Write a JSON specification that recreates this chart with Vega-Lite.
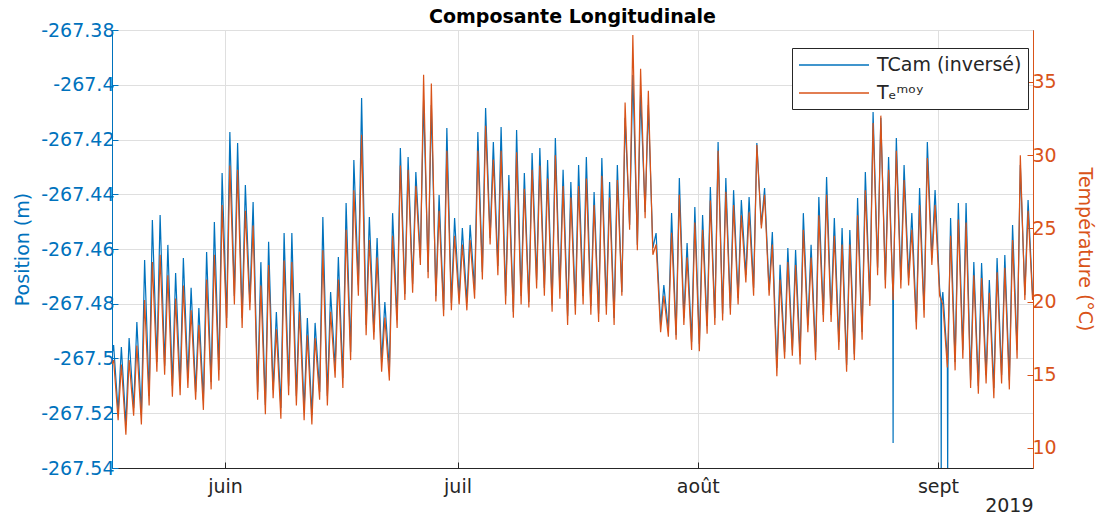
{
"$schema": "https://vega.github.io/schema/vega-lite/v6.json",
"autosize": {"type": "none"},
"padding": {"left": 112, "top": 30, "right": 70, "bottom": 47},
"width": 921,
"height": 438,
"title": {"text": "Composante Longitudinale", "fontSize": 19, "fontWeight": "bold", "color": "#000000", "offset": 6, "dy": 12, "frame": "group", "font": "DejaVu Sans"},
"config": {
  "font": "DejaVu Sans",
  "view": {"stroke": "#262626", "strokeWidth": 1},
  "axis": {"labelFontSize": 19, "titleFontSize": 19, "titleFontWeight": "normal", "gridColor": "#dfdfdf", "tickSize": -6, "labelFont": "DejaVu Sans", "titleFont": "DejaVu Sans"}
},
"datasets": {
"cam": [
{"t":"2019-05-17T10:00","p":-267.4987},{"t":"2019-05-17T15:00","p":-267.4951},{"t":"2019-05-18T05:00","p":-267.5195},{"t":"2019-05-18T15:00","p":-267.4958},
{"t":"2019-05-19T05:00","p":-267.5243},{"t":"2019-05-19T15:00","p":-267.4925},{"t":"2019-05-20T05:00","p":-267.5181},{"t":"2019-05-20T15:00","p":-267.4867},
{"t":"2019-05-21T05:00","p":-267.5206},{"t":"2019-05-21T15:00","p":-267.4640},{"t":"2019-05-22T05:00","p":-267.5137},{"t":"2019-05-22T15:00","p":-267.4494},
{"t":"2019-05-23T05:00","p":-267.5013},{"t":"2019-05-23T15:00","p":-267.4476},{"t":"2019-05-24T05:00","p":-267.5027},{"t":"2019-05-24T15:00","p":-267.4585},
{"t":"2019-05-25T05:00","p":-267.5100},{"t":"2019-05-25T15:00","p":-267.4688},{"t":"2019-05-26T05:00","p":-267.5100},{"t":"2019-05-26T15:00","p":-267.4633},
{"t":"2019-05-27T05:00","p":-267.5071},{"t":"2019-05-27T15:00","p":-267.4742},{"t":"2019-05-28T05:00","p":-267.5122},{"t":"2019-05-28T15:00","p":-267.4816},
{"t":"2019-05-29T05:00","p":-267.5152},{"t":"2019-05-29T15:00","p":-267.4611},{"t":"2019-05-30T05:00","p":-267.5086},{"t":"2019-05-30T15:00","p":-267.4501},
{"t":"2019-05-31T05:00","p":-267.5042},{"t":"2019-05-31T15:00","p":-267.4322},{"t":"2019-06-01T05:00","p":-267.4852},{"t":"2019-06-01T15:00","p":-267.4173},
{"t":"2019-06-02T05:00","p":-267.4772},{"t":"2019-06-02T15:00","p":-267.4213},{"t":"2019-06-03T05:00","p":-267.4852},{"t":"2019-06-03T15:00","p":-267.4366},
{"t":"2019-06-04T05:00","p":-267.4794},{"t":"2019-06-04T15:00","p":-267.4428},{"t":"2019-06-05T05:00","p":-267.5122},{"t":"2019-06-05T15:00","p":-267.4648},
{"t":"2019-06-06T05:00","p":-267.5170},{"t":"2019-06-06T15:00","p":-267.4574},{"t":"2019-06-07T05:00","p":-267.5115},{"t":"2019-06-07T15:00","p":-267.4830},
{"t":"2019-06-08T05:00","p":-267.5181},{"t":"2019-06-08T15:00","p":-267.4542},{"t":"2019-06-09T05:00","p":-267.5100},{"t":"2019-06-09T15:00","p":-267.4542},
{"t":"2019-06-10T05:00","p":-267.5137},{"t":"2019-06-10T15:00","p":-267.4761},{"t":"2019-06-11T05:00","p":-267.5188},{"t":"2019-06-11T15:00","p":-267.4852},
{"t":"2019-06-12T05:00","p":-267.5206},{"t":"2019-06-12T15:00","p":-267.4870},{"t":"2019-06-13T05:00","p":-267.5122},{"t":"2019-06-13T15:00","p":-267.4483},
{"t":"2019-06-14T05:00","p":-267.5137},{"t":"2019-06-14T15:00","p":-267.4757},{"t":"2019-06-15T05:00","p":-267.5035},{"t":"2019-06-15T15:00","p":-267.4629},
{"t":"2019-06-16T05:00","p":-267.5071},{"t":"2019-06-16T15:00","p":-267.4432},{"t":"2019-06-17T05:00","p":-267.4976},{"t":"2019-06-17T15:00","p":-267.4275},
{"t":"2019-06-18T05:00","p":-267.4732},{"t":"2019-06-18T15:00","p":-267.4048},{"t":"2019-06-19T05:00","p":-267.4878},{"t":"2019-06-19T15:00","p":-267.4483},
{"t":"2019-06-20T05:00","p":-267.4903},{"t":"2019-06-20T15:00","p":-267.4560},{"t":"2019-06-21T05:00","p":-267.5013},{"t":"2019-06-21T15:00","p":-267.4794},
{"t":"2019-06-22T05:00","p":-267.5042},{"t":"2019-06-22T15:00","p":-267.4469},{"t":"2019-06-23T05:00","p":-267.4859},{"t":"2019-06-23T15:00","p":-267.4231},
{"t":"2019-06-24T05:00","p":-267.4764},{"t":"2019-06-24T15:00","p":-267.4264},{"t":"2019-06-25T05:00","p":-267.4728},{"t":"2019-06-25T15:00","p":-267.4319},
{"t":"2019-06-26T05:00","p":-267.4633},{"t":"2019-06-26T15:00","p":-267.4056},{"t":"2019-06-27T05:00","p":-267.4684},{"t":"2019-06-27T15:00","p":-267.4074},
{"t":"2019-06-28T05:00","p":-267.4772},{"t":"2019-06-28T15:00","p":-267.4403},{"t":"2019-06-29T05:00","p":-267.4823},{"t":"2019-06-29T15:00","p":-267.4158},
{"t":"2019-06-30T05:00","p":-267.4797},{"t":"2019-06-30T15:00","p":-267.4487},{"t":"2019-07-01T05:00","p":-267.4779},{"t":"2019-07-01T15:00","p":-267.4523},
{"t":"2019-07-02T05:00","p":-267.4794},{"t":"2019-07-02T15:00","p":-267.4512},{"t":"2019-07-03T05:00","p":-267.4750},{"t":"2019-07-03T15:00","p":-267.4173},
{"t":"2019-07-04T05:00","p":-267.4684},{"t":"2019-07-04T15:00","p":-267.4085},{"t":"2019-07-05T05:00","p":-267.4560},{"t":"2019-07-05T15:00","p":-267.4209},
{"t":"2019-07-06T05:00","p":-267.4662},{"t":"2019-07-06T15:00","p":-267.4154},{"t":"2019-07-07T05:00","p":-267.4772},{"t":"2019-07-07T15:00","p":-267.4330},
{"t":"2019-07-08T05:00","p":-267.4830},{"t":"2019-07-08T15:00","p":-267.4165},{"t":"2019-07-09T05:00","p":-267.4772},{"t":"2019-07-09T15:00","p":-267.4322},
{"t":"2019-07-10T05:00","p":-267.4794},{"t":"2019-07-10T15:00","p":-267.4249},{"t":"2019-07-11T05:00","p":-267.4713},{"t":"2019-07-11T15:00","p":-267.4231},
{"t":"2019-07-12T05:00","p":-267.4742},{"t":"2019-07-12T15:00","p":-267.4275},{"t":"2019-07-13T05:00","p":-267.4805},{"t":"2019-07-13T15:00","p":-267.4195},
{"t":"2019-07-14T05:00","p":-267.4750},{"t":"2019-07-14T15:00","p":-267.4311},{"t":"2019-07-15T05:00","p":-267.4845},{"t":"2019-07-15T15:00","p":-267.4355},
{"t":"2019-07-16T05:00","p":-267.4808},{"t":"2019-07-16T15:00","p":-267.4293},{"t":"2019-07-17T05:00","p":-267.4772},{"t":"2019-07-17T15:00","p":-267.4264},
{"t":"2019-07-18T05:00","p":-267.4808},{"t":"2019-07-18T15:00","p":-267.4392},{"t":"2019-07-19T05:00","p":-267.4837},{"t":"2019-07-19T15:00","p":-267.4268},
{"t":"2019-07-20T05:00","p":-267.4808},{"t":"2019-07-20T15:00","p":-267.4355},{"t":"2019-07-21T05:00","p":-267.4852},{"t":"2019-07-21T15:00","p":-267.4293},
{"t":"2019-07-22T05:00","p":-267.4757},{"t":"2019-07-22T15:00","p":-267.4121},{"t":"2019-07-23T05:00","p":-267.4512},{"t":"2019-07-23T15:00","p":-267.3964},
{"t":"2019-07-24T05:00","p":-267.4585},{"t":"2019-07-24T15:00","p":-267.4037},{"t":"2019-07-25T05:00","p":-267.4465},{"t":"2019-07-25T15:00","p":-267.4074},
{"t":"2019-07-26T05:00","p":-267.4596},{"t":"2019-07-26T15:00","p":-267.4542},{"t":"2019-07-27T05:00","p":-267.4878},{"t":"2019-07-27T15:00","p":-267.4732},
{"t":"2019-07-28T05:00","p":-267.4896},{"t":"2019-07-28T15:00","p":-267.4469},{"t":"2019-07-29T05:00","p":-267.4914},{"t":"2019-07-29T15:00","p":-267.4341},
{"t":"2019-07-30T05:00","p":-267.4852},{"t":"2019-07-30T15:00","p":-267.4578},{"t":"2019-07-31T05:00","p":-267.4940},{"t":"2019-07-31T15:00","p":-267.4447},
{"t":"2019-08-01T05:00","p":-267.4947},{"t":"2019-08-01T15:00","p":-267.4476},{"t":"2019-08-02T05:00","p":-267.4881},{"t":"2019-08-02T15:00","p":-267.4374},
{"t":"2019-08-03T05:00","p":-267.4852},{"t":"2019-08-03T15:00","p":-267.4209},{"t":"2019-08-04T05:00","p":-267.4837},{"t":"2019-08-04T15:00","p":-267.4341},
{"t":"2019-08-05T05:00","p":-267.4816},{"t":"2019-08-05T15:00","p":-267.4385},{"t":"2019-08-06T05:00","p":-267.4779},{"t":"2019-08-06T15:00","p":-267.4421},
{"t":"2019-08-07T05:00","p":-267.4695},{"t":"2019-08-07T15:00","p":-267.4410},{"t":"2019-08-08T05:00","p":-267.4742},{"t":"2019-08-08T15:00","p":-267.4213},
{"t":"2019-08-09T05:00","p":-267.4512},{"t":"2019-08-09T15:00","p":-267.4377},{"t":"2019-08-10T05:00","p":-267.4750},{"t":"2019-08-10T15:00","p":-267.4538},
{"t":"2019-08-11T05:00","p":-267.5035},{"t":"2019-08-11T15:00","p":-267.4658},{"t":"2019-08-12T05:00","p":-267.4976},{"t":"2019-08-12T15:00","p":-267.4596},
{"t":"2019-08-13T05:00","p":-267.4969},{"t":"2019-08-13T15:00","p":-267.4604},{"t":"2019-08-14T05:00","p":-267.4991},{"t":"2019-08-14T15:00","p":-267.4469},
{"t":"2019-08-15T05:00","p":-267.4878},{"t":"2019-08-15T15:00","p":-267.4585},{"t":"2019-08-16T05:00","p":-267.4976},{"t":"2019-08-16T15:00","p":-267.4410},
{"t":"2019-08-17T05:00","p":-267.4841},{"t":"2019-08-17T15:00","p":-267.4337},{"t":"2019-08-18T05:00","p":-267.4841},{"t":"2019-08-18T15:00","p":-267.4487},
{"t":"2019-08-19T05:00","p":-267.4940},{"t":"2019-08-19T15:00","p":-267.4523},{"t":"2019-08-20T05:00","p":-267.5024},{"t":"2019-08-20T15:00","p":-267.4531},
{"t":"2019-08-21T05:00","p":-267.4984},{"t":"2019-08-21T15:00","p":-267.4414},{"t":"2019-08-22T05:00","p":-267.4903},{"t":"2019-08-22T15:00","p":-267.4319},
{"t":"2019-08-23T05:00","p":-267.4786},{"t":"2019-08-23T15:00","p":-267.4100},{"t":"2019-08-24T05:00","p":-267.4669},{"t":"2019-08-24T15:00","p":-267.4121},
{"t":"2019-08-25T05:00","p":-267.4713},{"t":"2019-08-25T15:00","p":-267.4264},{"t":"2019-08-26T04:00","p":-267.4750},{"t":"2019-08-26T05:00","p":-267.5309},
{"t":"2019-08-26T06:00","p":-267.4750},{"t":"2019-08-26T15:00","p":-267.4195},{"t":"2019-08-27T05:00","p":-267.4713},{"t":"2019-08-27T15:00","p":-267.4293},
{"t":"2019-08-28T05:00","p":-267.4706},{"t":"2019-08-28T15:00","p":-267.4469},{"t":"2019-08-29T05:00","p":-267.4867},{"t":"2019-08-29T15:00","p":-267.4377},
{"t":"2019-08-30T05:00","p":-267.4823},{"t":"2019-08-30T15:00","p":-267.4209},{"t":"2019-08-31T05:00","p":-267.4633},{"t":"2019-08-31T15:00","p":-267.4385},
{"t":"2019-09-01T05:00","p":-267.4742},{"t":"2019-09-01T09:00","p":-267.4786},{"t":"2019-09-01T10:00","p":-267.5444},{"t":"2019-09-01T11:00","p":-267.4805},
{"t":"2019-09-01T15:00","p":-267.4757},{"t":"2019-09-02T05:00","p":-267.5006},{"t":"2019-09-02T06:00","p":-267.5444},{"t":"2019-09-02T07:00","p":-267.5024},
{"t":"2019-09-02T15:00","p":-267.4487},{"t":"2019-09-03T05:00","p":-267.5013},{"t":"2019-09-03T15:00","p":-267.4432},{"t":"2019-09-04T05:00","p":-267.4969},
{"t":"2019-09-04T15:00","p":-267.4432},{"t":"2019-09-05T05:00","p":-267.5079},{"t":"2019-09-05T15:00","p":-267.4648},{"t":"2019-09-06T05:00","p":-267.5100},
{"t":"2019-09-06T15:00","p":-267.4651},{"t":"2019-09-07T05:00","p":-267.5060},{"t":"2019-09-07T15:00","p":-267.4713},{"t":"2019-09-08T05:00","p":-267.5108},
{"t":"2019-09-08T15:00","p":-267.4633},{"t":"2019-09-09T05:00","p":-267.5060},{"t":"2019-09-09T15:00","p":-267.4622},{"t":"2019-09-10T05:00","p":-267.5079},
{"t":"2019-09-10T15:00","p":-267.4512},{"t":"2019-09-11T05:00","p":-267.4969},{"t":"2019-09-11T15:00","p":-267.4293},{"t":"2019-09-12T05:00","p":-267.4768},
{"t":"2019-09-12T15:00","p":-267.4421},{"t":"2019-09-13T05:00","p":-267.4768}
],
"te": [
{"t":"2019-05-17T10:00","T":15.7},{"t":"2019-05-17T15:00","T":16.0},{"t":"2019-05-18T05:00","T":11.9},{"t":"2019-05-18T15:00","T":15.7},
{"t":"2019-05-19T05:00","T":10.9},{"t":"2019-05-19T15:00","T":16.0},{"t":"2019-05-20T05:00","T":12.2},{"t":"2019-05-20T15:00","T":17.0},
{"t":"2019-05-21T05:00","T":11.6},{"t":"2019-05-21T15:00","T":20.1},{"t":"2019-05-22T05:00","T":12.9},{"t":"2019-05-22T15:00","T":22.7},
{"t":"2019-05-23T05:00","T":15.2},{"t":"2019-05-23T15:00","T":23.2},{"t":"2019-05-24T05:00","T":15.0},{"t":"2019-05-24T15:00","T":21.8},
{"t":"2019-05-25T05:00","T":13.5},{"t":"2019-05-25T15:00","T":20.2},{"t":"2019-05-26T05:00","T":13.6},{"t":"2019-05-26T15:00","T":21.1},
{"t":"2019-05-27T05:00","T":14.1},{"t":"2019-05-27T15:00","T":19.4},{"t":"2019-05-28T05:00","T":13.3},{"t":"2019-05-28T15:00","T":18.4},
{"t":"2019-05-29T05:00","T":12.6},{"t":"2019-05-29T15:00","T":21.5},{"t":"2019-05-30T05:00","T":14.0},{"t":"2019-05-30T15:00","T":23.2},
{"t":"2019-05-31T05:00","T":14.6},{"t":"2019-05-31T15:00","T":26.6},{"t":"2019-06-01T05:00","T":18.2},{"t":"2019-06-01T15:00","T":29.3},
{"t":"2019-06-02T05:00","T":19.8},{"t":"2019-06-02T15:00","T":29.0},{"t":"2019-06-03T05:00","T":18.2},{"t":"2019-06-03T15:00","T":26.2},
{"t":"2019-06-04T05:00","T":19.4},{"t":"2019-06-04T15:00","T":25.2},{"t":"2019-06-05T05:00","T":13.3},{"t":"2019-06-05T15:00","T":21.1},
{"t":"2019-06-06T05:00","T":12.3},{"t":"2019-06-06T15:00","T":22.5},{"t":"2019-06-07T05:00","T":13.4},{"t":"2019-06-07T15:00","T":18.1},
{"t":"2019-06-08T05:00","T":12.0},{"t":"2019-06-08T15:00","T":22.8},{"t":"2019-06-09T05:00","T":13.6},{"t":"2019-06-09T15:00","T":22.7},
{"t":"2019-06-10T05:00","T":12.9},{"t":"2019-06-10T15:00","T":19.3},{"t":"2019-06-11T05:00","T":11.9},{"t":"2019-06-11T15:00","T":17.7},
{"t":"2019-06-12T05:00","T":11.6},{"t":"2019-06-12T15:00","T":17.5},{"t":"2019-06-13T05:00","T":13.3},{"t":"2019-06-13T15:00","T":23.5},
{"t":"2019-06-14T05:00","T":12.9},{"t":"2019-06-14T15:00","T":19.3},{"t":"2019-06-15T05:00","T":14.8},{"t":"2019-06-15T15:00","T":21.5},
{"t":"2019-06-16T05:00","T":14.1},{"t":"2019-06-16T15:00","T":24.9},{"t":"2019-06-17T05:00","T":16.0},{"t":"2019-06-17T15:00","T":27.6},
{"t":"2019-06-18T05:00","T":20.4},{"t":"2019-06-18T15:00","T":31.4},{"t":"2019-06-19T05:00","T":17.7},{"t":"2019-06-19T15:00","T":24.2},
{"t":"2019-06-20T05:00","T":17.4},{"t":"2019-06-20T15:00","T":23.0},{"t":"2019-06-21T05:00","T":15.2},{"t":"2019-06-21T15:00","T":18.9},
{"t":"2019-06-22T05:00","T":14.6},{"t":"2019-06-22T15:00","T":24.5},{"t":"2019-06-23T05:00","T":18.2},{"t":"2019-06-23T15:00","T":29.3},
{"t":"2019-06-24T05:00","T":20.1},{"t":"2019-06-24T15:00","T":29.0},{"t":"2019-06-25T05:00","T":20.6},{"t":"2019-06-25T15:00","T":27.9},
{"t":"2019-06-26T05:00","T":22.5},{"t":"2019-06-26T15:00","T":35.5},{"t":"2019-06-27T05:00","T":21.6},{"t":"2019-06-27T15:00","T":34.9},
{"t":"2019-06-28T05:00","T":20.0},{"t":"2019-06-28T15:00","T":26.2},{"t":"2019-06-29T05:00","T":19.0},{"t":"2019-06-29T15:00","T":30.3},
{"t":"2019-06-30T05:00","T":19.4},{"t":"2019-06-30T15:00","T":24.5},{"t":"2019-07-01T05:00","T":19.8},{"t":"2019-07-01T15:00","T":23.9},
{"t":"2019-07-02T05:00","T":19.4},{"t":"2019-07-02T15:00","T":24.2},{"t":"2019-07-03T05:00","T":20.2},{"t":"2019-07-03T15:00","T":30.3},
{"t":"2019-07-04T05:00","T":21.5},{"t":"2019-07-04T15:00","T":32.0},{"t":"2019-07-05T05:00","T":23.9},{"t":"2019-07-05T15:00","T":29.7},
{"t":"2019-07-06T05:00","T":21.8},{"t":"2019-07-06T15:00","T":30.3},{"t":"2019-07-07T05:00","T":19.8},{"t":"2019-07-07T15:00","T":27.6},
{"t":"2019-07-08T05:00","T":18.9},{"t":"2019-07-08T15:00","T":30.2},{"t":"2019-07-09T05:00","T":19.8},{"t":"2019-07-09T15:00","T":27.7},
{"t":"2019-07-10T05:00","T":19.6},{"t":"2019-07-10T15:00","T":29.0},{"t":"2019-07-11T05:00","T":20.9},{"t":"2019-07-11T15:00","T":29.3},
{"t":"2019-07-12T05:00","T":20.4},{"t":"2019-07-12T15:00","T":28.4},{"t":"2019-07-13T05:00","T":19.3},{"t":"2019-07-13T15:00","T":30.0},
{"t":"2019-07-14T05:00","T":20.2},{"t":"2019-07-14T15:00","T":27.9},{"t":"2019-07-15T05:00","T":18.4},{"t":"2019-07-15T15:00","T":27.1},
{"t":"2019-07-16T05:00","T":19.1},{"t":"2019-07-16T15:00","T":27.9},{"t":"2019-07-17T05:00","T":19.8},{"t":"2019-07-17T15:00","T":28.4},
{"t":"2019-07-18T05:00","T":19.1},{"t":"2019-07-18T15:00","T":26.6},{"t":"2019-07-19T05:00","T":18.6},{"t":"2019-07-19T15:00","T":28.6},
{"t":"2019-07-20T05:00","T":19.1},{"t":"2019-07-20T15:00","T":27.1},{"t":"2019-07-21T05:00","T":18.4},{"t":"2019-07-21T15:00","T":28.3},
{"t":"2019-07-22T05:00","T":20.4},{"t":"2019-07-22T15:00","T":33.6},{"t":"2019-07-23T05:00","T":24.9},{"t":"2019-07-23T15:00","T":38.2},
{"t":"2019-07-24T05:00","T":23.5},{"t":"2019-07-24T15:00","T":35.9},{"t":"2019-07-25T05:00","T":25.7},{"t":"2019-07-25T15:00","T":34.4},
{"t":"2019-07-26T05:00","T":23.2},{"t":"2019-07-26T15:00","T":23.9},{"t":"2019-07-27T05:00","T":17.9},{"t":"2019-07-27T15:00","T":20.4},
{"t":"2019-07-28T05:00","T":17.6},{"t":"2019-07-28T15:00","T":24.7},{"t":"2019-07-29T05:00","T":17.4},{"t":"2019-07-29T15:00","T":27.3},
{"t":"2019-07-30T05:00","T":18.4},{"t":"2019-07-30T15:00","T":23.0},{"t":"2019-07-31T05:00","T":16.7},{"t":"2019-07-31T15:00","T":25.4},
{"t":"2019-08-01T05:00","T":16.6},{"t":"2019-08-01T15:00","T":24.9},{"t":"2019-08-02T05:00","T":17.8},{"t":"2019-08-02T15:00","T":26.9},
{"t":"2019-08-03T05:00","T":18.4},{"t":"2019-08-03T15:00","T":30.3},{"t":"2019-08-04T05:00","T":18.7},{"t":"2019-08-04T15:00","T":27.5},
{"t":"2019-08-05T05:00","T":19.1},{"t":"2019-08-05T15:00","T":26.6},{"t":"2019-08-06T05:00","T":19.8},{"t":"2019-08-06T15:00","T":25.9},
{"t":"2019-08-07T05:00","T":21.3},{"t":"2019-08-07T15:00","T":26.1},{"t":"2019-08-08T05:00","T":20.4},{"t":"2019-08-08T15:00","T":30.7},
{"t":"2019-08-09T05:00","T":25.0},{"t":"2019-08-09T15:00","T":27.3},{"t":"2019-08-10T05:00","T":20.4},{"t":"2019-08-10T15:00","T":23.9},
{"t":"2019-08-11T05:00","T":14.9},{"t":"2019-08-11T15:00","T":21.5},{"t":"2019-08-12T05:00","T":16.1},{"t":"2019-08-12T15:00","T":22.7},
{"t":"2019-08-13T05:00","T":16.3},{"t":"2019-08-13T15:00","T":22.5},{"t":"2019-08-14T05:00","T":15.7},{"t":"2019-08-14T15:00","T":24.9},
{"t":"2019-08-15T05:00","T":17.9},{"t":"2019-08-15T15:00","T":23.0},{"t":"2019-08-16T05:00","T":16.0},{"t":"2019-08-16T15:00","T":25.9},
{"t":"2019-08-17T05:00","T":18.6},{"t":"2019-08-17T15:00","T":27.3},{"t":"2019-08-18T05:00","T":18.6},{"t":"2019-08-18T15:00","T":24.5},
{"t":"2019-08-19T05:00","T":16.7},{"t":"2019-08-19T15:00","T":23.9},{"t":"2019-08-20T05:00","T":15.2},{"t":"2019-08-20T15:00","T":23.9},
{"t":"2019-08-21T05:00","T":16.0},{"t":"2019-08-21T15:00","T":25.9},{"t":"2019-08-22T05:00","T":17.4},{"t":"2019-08-22T15:00","T":27.6},
{"t":"2019-08-23T05:00","T":19.7},{"t":"2019-08-23T15:00","T":32.2},{"t":"2019-08-24T05:00","T":21.8},{"t":"2019-08-24T15:00","T":32.7},
{"t":"2019-08-25T05:00","T":20.9},{"t":"2019-08-25T15:00","T":29.0},{"t":"2019-08-26T05:00","T":20.1},{"t":"2019-08-26T15:00","T":30.3},
{"t":"2019-08-27T05:00","T":20.9},{"t":"2019-08-27T15:00","T":28.3},{"t":"2019-08-28T05:00","T":21.1},{"t":"2019-08-28T15:00","T":24.9},
{"t":"2019-08-29T05:00","T":18.1},{"t":"2019-08-29T15:00","T":26.6},{"t":"2019-08-30T05:00","T":18.9},{"t":"2019-08-30T15:00","T":29.8},
{"t":"2019-08-31T05:00","T":22.5},{"t":"2019-08-31T15:00","T":26.6},{"t":"2019-09-01T05:00","T":20.4},{"t":"2019-09-01T15:00","T":19.8},
{"t":"2019-09-02T05:00","T":15.5},{"t":"2019-09-02T15:00","T":24.5},{"t":"2019-09-03T05:00","T":15.3},{"t":"2019-09-03T15:00","T":25.6},
{"t":"2019-09-04T05:00","T":16.1},{"t":"2019-09-04T15:00","T":25.4},{"t":"2019-09-05T05:00","T":14.1},{"t":"2019-09-05T15:00","T":21.8},
{"t":"2019-09-06T05:00","T":13.7},{"t":"2019-09-06T15:00","T":21.6},{"t":"2019-09-07T05:00","T":14.4},{"t":"2019-09-07T15:00","T":20.6},
{"t":"2019-09-08T05:00","T":13.4},{"t":"2019-09-08T15:00","T":22.0},{"t":"2019-09-09T05:00","T":14.4},{"t":"2019-09-09T15:00","T":22.3},
{"t":"2019-09-10T05:00","T":14.0},{"t":"2019-09-10T15:00","T":24.2},{"t":"2019-09-11T05:00","T":16.1},{"t":"2019-09-11T15:00","T":30.0},
{"t":"2019-09-12T05:00","T":20.1},{"t":"2019-09-12T15:00","T":26.2},{"t":"2019-09-13T05:00","T":20.1}
]
},
"layer": [
{
  "data": {"name": "cam"},
  "mark": {"type": "line", "strokeWidth": 1.2, "clip": true},
  "encoding": {
    "x": {"field": "t", "type": "temporal",
      "scale": {"domain": [{"year": 2019, "month": 5, "date": 17, "hours": 10}, {"year": 2019, "month": 9, "date": 13, "hours": 6, "minutes": 15}]},
      "axis": {"values": [{"year": 2019, "month": 6, "date": 1}, {"year": 2019, "month": 7, "date": 1}, {"year": 2019, "month": 8, "date": 1}, {"year": 2019, "month": 9, "date": 1}],
        "labelExpr": "['janv.','févr.','mars','avr.','mai','juin','juil','août','sept','oct.','nov.','déc.'][month(datum.value)]",
        "title": "2019", "titleAnchor": "end", "grid": true, "domainColor": "#262626", "labelColor": "#262626", "tickColor": "#262626", "titleColor": "#262626", "labelPadding": 15, "titlePadding": 0}},
    "y": {"field": "p", "type": "quantitative",
      "scale": {"domain": [-267.54, -267.38], "zero": false, "nice": false},
      "axis": {"orient": "left", "values": [-267.54, -267.52, -267.5, -267.48, -267.46, -267.44, -267.42, -267.4, -267.38],
        "labelExpr": "'-' + format(-datum.value, '.5~r')", "title": "Position (m)", "titleColor": "#0072BD", "labelColor": "#0072BD", "domainColor": "#0072BD", "tickColor": "#0072BD", "grid": true, "labelPadding": 4, "titlePadding": 8}},
    "color": {"datum": "TCam (inversé)", "type": "nominal",
      "scale": {"domain": ["TCam (inversé)", "Tₑᵐᵒʸ"], "range": ["#0072BD", "#D95319"]},
      "legend": {"orient": "none", "legendX": 680, "legendY": 18, "title": null, "strokeColor": "#262626", "fillColor": "white", "padding": 6, "symbolType": "M-3.5,0H3.5", "symbolSize": 400, "symbolOffset": 25, "labelOffset": 32, "symbolStrokeWidth": 1.5, "labelFontSize": 19, "labelColor": "#262626", "labelFont": "DejaVu Sans", "rowPadding": 7}}
  }
},
{
  "data": {"name": "te"},
  "mark": {"type": "line", "strokeWidth": 1.2, "clip": true},
  "encoding": {
    "x": {"field": "t", "type": "temporal"},
    "y": {"field": "T", "type": "quantitative",
      "scale": {"domain": [8.63, 38.55], "zero": false, "nice": false},
      "axis": {"orient": "right", "values": [10, 15, 20, 25, 30, 35], "title": "Température (°C)", "titleColor": "#D95319", "labelColor": "#D95319", "domainColor": "#D95319", "tickColor": "#D95319", "grid": false, "labelPadding": 5, "titlePadding": 18}},
    "color": {"datum": "Tₑᵐᵒʸ", "type": "nominal"}
  }
}
],
"resolve": {"scale": {"y": "independent"}}
}
